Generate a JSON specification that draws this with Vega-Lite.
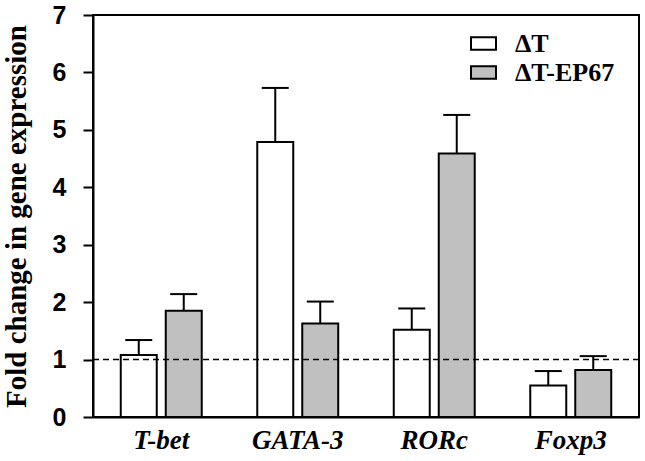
{
  "$schema": "https://vega.github.io/schema/vega-lite/v6.json",
  "width": 546,
  "height": 402,
  "autosize": "none",
  "padding": {"left": 93, "top": 15, "right": 6, "bottom": 44},
  "background": "white",
  "config": {
    "view": {"stroke": "black", "strokeWidth": 2},
    "axis": {"grid": false}
  },
  "data": {
    "values": [
      {"gene": "T-bet", "group": "ΔT", "value": 1.08, "upper": 1.34},
      {"gene": "T-bet", "group": "ΔT-EP67", "value": 1.85, "upper": 2.14},
      {"gene": "GATA-3", "group": "ΔT", "value": 4.79, "upper": 5.73},
      {"gene": "GATA-3", "group": "ΔT-EP67", "value": 1.63, "upper": 2.01},
      {"gene": "RORc", "group": "ΔT", "value": 1.52, "upper": 1.89},
      {"gene": "RORc", "group": "ΔT-EP67", "value": 4.59, "upper": 5.26},
      {"gene": "Foxp3", "group": "ΔT", "value": 0.55, "upper": 0.80},
      {"gene": "Foxp3", "group": "ΔT-EP67", "value": 0.82, "upper": 1.06}
    ]
  },
  "encoding": {
    "x": {
      "field": "gene", "type": "nominal", "sort": ["T-bet", "GATA-3", "RORc", "Foxp3"],
      "scale": {"paddingInner": 0, "paddingOuter": 0},
      "axis": {
        "title": null, "ticks": false, "labelAngle": 0, "domainColor": "black", "domainWidth": 2,
        "labelFont": "Liberation Serif", "labelFontWeight": "bold", "labelFontStyle": "italic",
        "labelFontSize": 27, "labelColor": "black", "labelPadding": 10
      }
    },
    "xOffset": {
      "field": "group", "type": "nominal", "sort": ["ΔT", "ΔT-EP67"],
      "scale": {"paddingInner": 0.2, "paddingOuter": 0.617}
    }
  },
  "layer": [
    {
      "mark": {"type": "bar", "stroke": "black", "strokeWidth": 2, "opacity": 1},
      "encoding": {
        "y": {
          "field": "value", "type": "quantitative",
          "scale": {"domain": [0, 7], "nice": false},
          "axis": {
            "title": "Fold change in gene expression",
            "values": [0, 1, 2, 3, 4, 5, 6, 7], "format": "d",
            "tickSize": 10, "tickWidth": 2, "tickColor": "black",
            "domainColor": "black", "domainWidth": 2,
            "labelFont": "Liberation Sans", "labelFontWeight": "bold", "labelFontSize": 25,
            "labelColor": "black", "labelPadding": 17,
            "titleFont": "Liberation Serif", "titleFontWeight": "bold", "titleFontSize": 29,
            "titleColor": "black", "titlePadding": 21
          }
        },
        "fill": {
          "field": "group", "type": "nominal",
          "scale": {"domain": ["ΔT", "ΔT-EP67"], "range": ["white", "#c0c0c0"]},
          "legend": {
            "title": null, "orient": "none", "legendX": 377, "legendY": 15,
            "symbolType": "M-1,-0.5H1V0.5H-1Z", "symbolSize": 625,
            "symbolStrokeColor": "black", "symbolStrokeWidth": 2, "symbolOpacity": 1,
            "labelFont": "Liberation Serif", "labelFontWeight": "bold", "labelFontSize": 26,
            "labelColor": "black", "labelOffset": 18, "rowPadding": 2, "padding": 0
          }
        }
      }
    },
    {
      "mark": {"type": "rule", "color": "black", "strokeWidth": 2},
      "encoding": {
        "y": {"field": "value", "type": "quantitative"},
        "y2": {"field": "upper"}
      }
    },
    {
      "mark": {"type": "tick", "color": "black", "thickness": 2, "size": 27, "opacity": 1},
      "encoding": {
        "y": {"field": "upper", "type": "quantitative"}
      }
    },
    {
      "data": {"values": [{"ref": 1}]},
      "mark": {"type": "rule", "color": "black", "strokeWidth": 1.5, "strokeDash": [6, 4]},
      "encoding": {
        "x": null,
        "xOffset": null,
        "y": {"field": "ref", "type": "quantitative"}
      }
    }
  ]
}
